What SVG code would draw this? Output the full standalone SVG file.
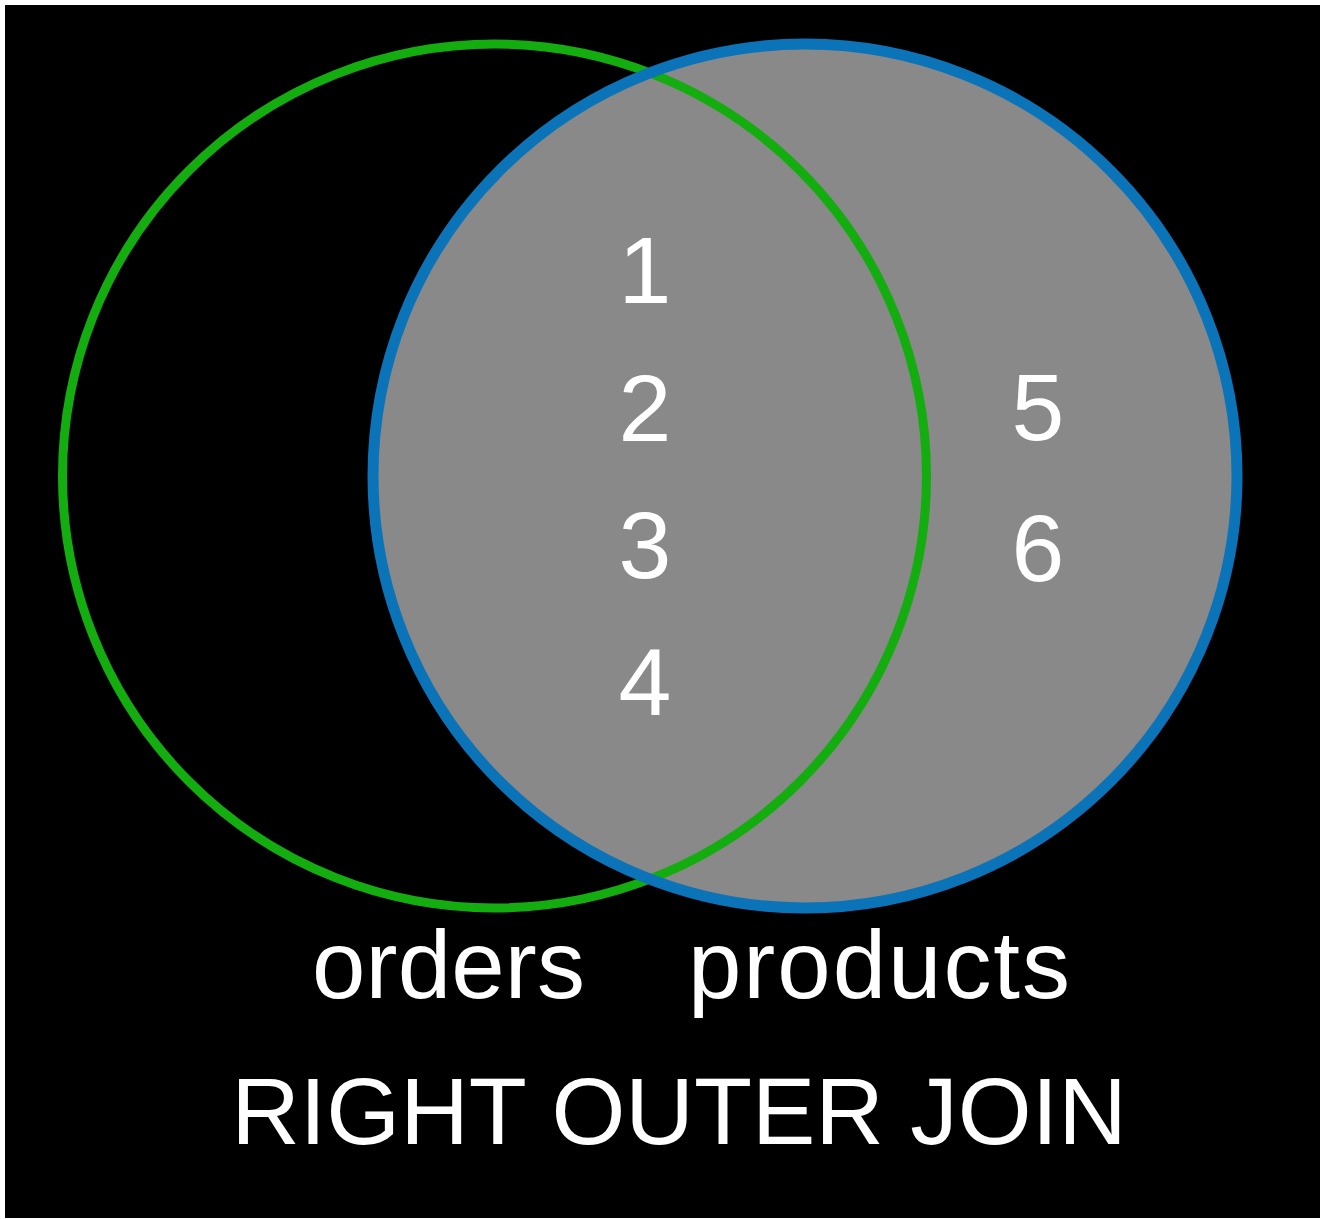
<svg xmlns="http://www.w3.org/2000/svg" width="1322" height="1219" viewBox="0 0 1322 1219">
<style>
.t{font-family:"Liberation Sans",Arial,sans-serif;fill:#ffffff}
.n{font-size:95px;text-anchor:middle}
.l{font-size:96px}
</style>
<rect x="0" y="0" width="1322" height="1219" fill="#ffffff"/>
<rect x="5" y="5" width="1315" height="1213" fill="#000000"/>
<g id="products-fill"><circle cx="805" cy="476" r="432" fill="#898989"/></g>
<g id="orders"><circle cx="494.5" cy="476" r="432" fill="none" stroke="#14ad0f" stroke-width="9"/></g>
<g id="products"><circle cx="805" cy="476" r="432" fill="none" stroke="#0b74b9" stroke-width="11"/></g>
<g id="numbers">
<text class="t n" x="645" y="303">1</text>
<text class="t n" x="645" y="441">2</text>
<text class="t n" x="645" y="578">3</text>
<text class="t n" x="645" y="715">4</text>
<text class="t n" x="1038" y="440">5</text>
<text class="t n" x="1038" y="581">6</text>
</g>
<g id="labels">
<text class="t l" x="312" y="998" textLength="273" lengthAdjust="spacing">orders</text>
<text class="t l" x="688" y="998" textLength="382" lengthAdjust="spacing">products</text>
<text class="t" x="679" y="1144" font-size="95" text-anchor="middle">RIGHT OUTER JOIN</text>
</g>
</svg>
